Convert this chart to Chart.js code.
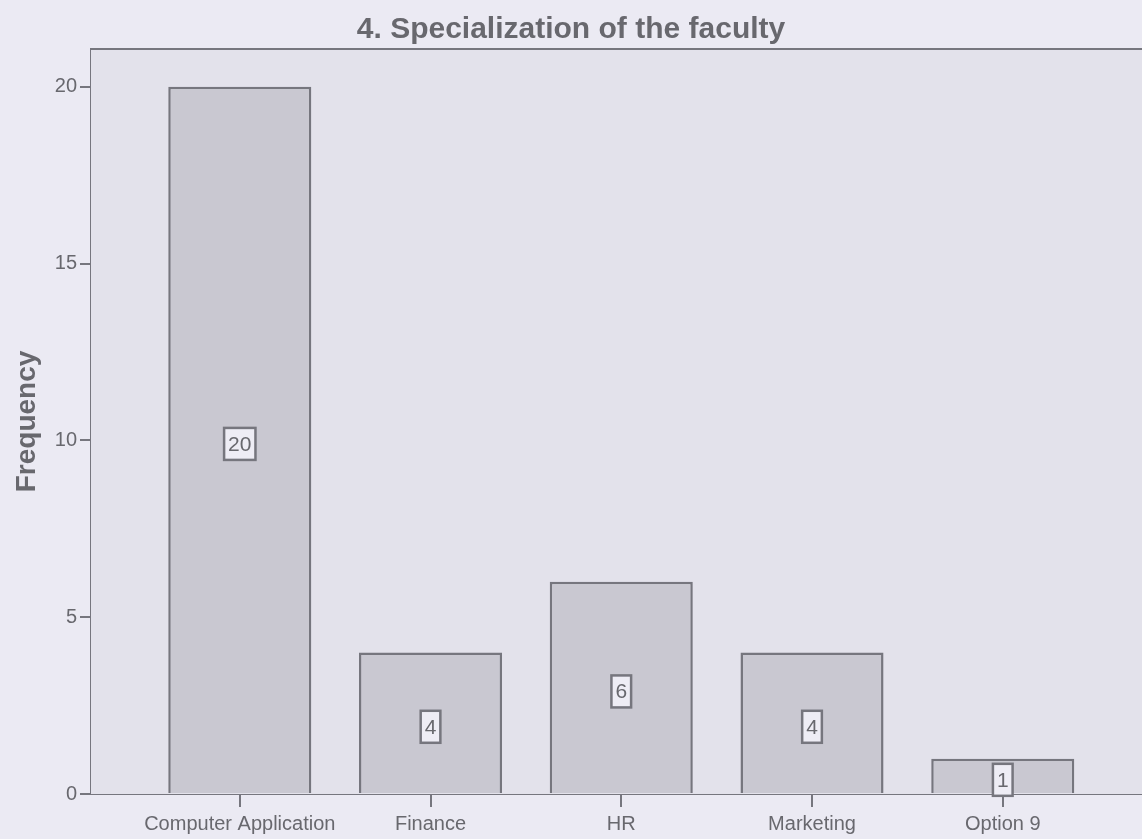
<!DOCTYPE html>
<html>
<head>
<meta charset="utf-8">
<script src="https://cdn.jsdelivr.net/npm/chart.js@4"></script>
<style>
  html, body { margin: 0; padding: 0; background: #ebeaf3; }
  #wrap { width: 1142px; height: 839px; }
</style>
</head>
<body>
<div id="wrap"><canvas id="chart"></canvas></div>
<script>
const categories = ['Computer Application', 'Finance', 'HR', 'Marketing', 'Option 9'];
const frequencies = [20, 4, 6, 4, 1];
const yTicks = [0, 5, 10, 15, 20];

const axisColor = '#76767e';
const textColor = '#68686e';
const fontFam = '"Liberation Sans", Arial, sans-serif';

// fond de la zone de tracé + cadre du haut + étiquettes encadrées
const plotFrame = {
  id: 'plotFrame',
  beforeDatasetsDraw(chart) {
    const { ctx, chartArea: a } = chart;
    ctx.save();
    ctx.fillStyle = '#e3e2eb';
    ctx.fillRect(a.left, a.top, a.right - a.left, a.bottom - a.top);
    ctx.strokeStyle = axisColor;
    ctx.lineWidth = 2;
    ctx.beginPath();
    ctx.moveTo(a.left, a.top);
    ctx.lineTo(a.right, a.top);
    ctx.stroke();
    ctx.restore();
  },
  afterDatasetsDraw(chart) {
    const { ctx } = chart;
    const meta = chart.getDatasetMeta(0);
    ctx.save();
    ctx.font = '21px ' + fontFam;
    ctx.textAlign = 'center';
    ctx.textBaseline = 'middle';
    meta.data.forEach((bar, i) => {
      const txt = String(frequencies[i]);
      const w = ctx.measureText(txt).width + 8;
      const h = 32;
      const cx = bar.x;
      const cy = (bar.y + bar.base) / 2 + 4;
      ctx.fillStyle = '#eeedf5';
      ctx.fillRect(cx - w / 2, cy - h / 2, w, h);
      ctx.strokeStyle = axisColor;
      ctx.lineWidth = 2.5;
      ctx.strokeRect(cx - w / 2, cy - h / 2, w, h);
      ctx.fillStyle = textColor;
      ctx.fillText(txt, cx, cy + 1);
    });
    ctx.restore();
  }
};

const ctx = document.getElementById('chart').getContext('2d');
new Chart(ctx, {
  type: 'bar',
  data: {
    datasets: [{
      label: 'Frequency',
      data: frequencies.map((v, i) => ({ x: i, y: v })),
      backgroundColor: '#c9c8d1',
      borderColor: axisColor,
      borderWidth: 2.5,
      borderSkipped: 'bottom',
      categoryPercentage: 0.75,
      barPercentage: 1
    }]
  },
  options: {
    responsive: true,
    maintainAspectRatio: false,
    animation: false,
    layout: { padding: 0 },
    plugins: {
      legend: { display: false },
      tooltip: { enabled: false },
      title: {
        display: true,
        text: '4. Specialization of the faculty',
        color: textColor,
        font: { family: fontFam, size: 30, weight: 'bold' },
        padding: { top: 12, bottom: 1 }
      }
    },
    scales: {
      x: {
        type: 'linear',
        offset: false,
        min: -0.78,
        max: 4.73,
        afterBuildTicks: axis => { axis.ticks = categories.map((c, i) => ({ value: i })); },
        afterFit: axis => { axis.height = 45; },
        ticks: {
          callback: v => categories[v],
          color: textColor,
          font: { family: fontFam, size: 20 },
          maxRotation: 0,
          autoSkip: false,
          padding: 5
        },
        grid: { offset: false, drawOnChartArea: false, drawTicks: true, tickLength: 13, color: axisColor, lineWidth: 2 },
        border: { display: true, color: axisColor, width: 2 }
      },
      y: {
        min: 0,
        max: 21.07,
        afterBuildTicks: axis => { axis.ticks = yTicks.map(v => ({ value: v })); },
        afterFit: axis => { axis.width = 91; },
        title: {
          display: true,
          text: 'Frequency',
          color: textColor,
          font: { family: fontFam, size: 28, weight: 'bold' },
          padding: { top: 10, bottom: 0 }
        },
        ticks: {
          color: textColor,
          font: { family: fontFam, size: 20 },
          padding: 3
        },
        grid: { drawOnChartArea: false, drawTicks: true, tickLength: 11, color: axisColor, lineWidth: 2 },
        border: { display: true, color: axisColor, width: 2 }
      }
    }
  },
  plugins: [plotFrame]
});
</script>
</body>
</html>
